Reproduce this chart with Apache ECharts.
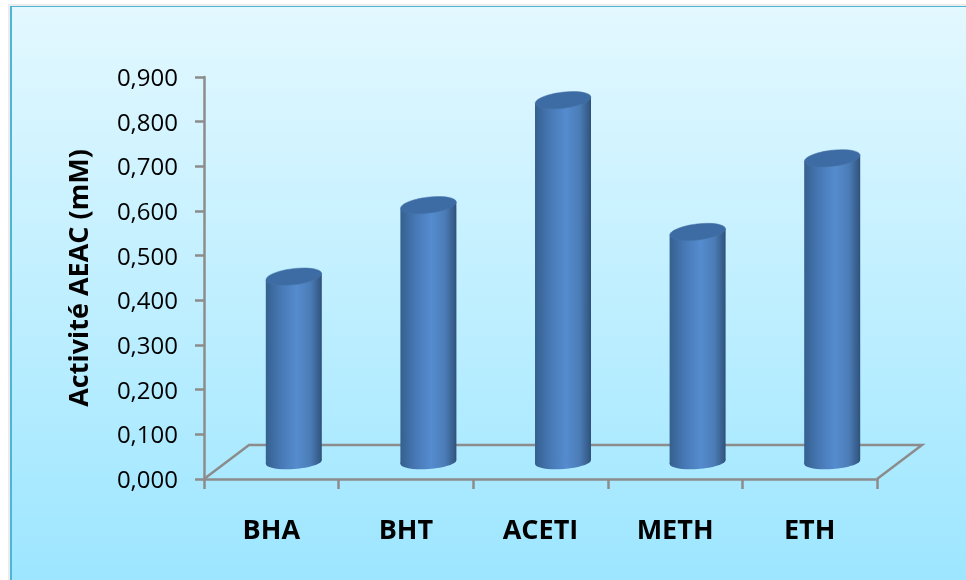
<!DOCTYPE html>
<html>
<head>
<meta charset="utf-8">
<style>html,body{margin:0;padding:0;background:#fff}#c{width:966px;height:580px}</style>
<script src="https://cdn.jsdelivr.net/npm/echarts@6/dist/echarts.min.js"></script>
</head>
<body>
<div id="c"></div>
<script>
const categories = ['BHA', 'BHT', 'ACETI', 'METH', 'ETH'];
const activity = [0.415, 0.575, 0.81, 0.515, 0.68];
const tickStep = 0.1;
const axisMax = 0.9;
const axisTitle = 'Activité AEAC (mM)';

const FONT = '"Open Sans", "Noto Sans", sans-serif';
const AXIS_GREY = '#8c8c8c';
// Oblique depth of the floor, in pixels
const DEPTH_X = 45, DEPTH_Y = 34;
const RX = 28, RY = 7;
const TILT = 0.12;

const bodyFill = new echarts.graphic.LinearGradient(0, 0, 1, 0, [
  { offset: 0, color: '#35608f' },
  { offset: 0.25, color: '#4677b3' },
  { offset: 0.55, color: '#558ccf' },
  { offset: 0.8, color: '#4b7cb6' },
  { offset: 0.96, color: '#355b88' },
  { offset: 1, color: '#2f4f78' }
]);

// One cylinder: the base sits halfway into the floor depth
function renderCylinder(params, api) {
  const base = api.coord([api.value(0), 0]);
  const top = api.coord([api.value(0), api.value(1)]);
  const cx = base[0] + DEPTH_X / 2;
  const by = base[1] - DEPTH_Y / 2;
  const ty = top[1] - DEPTH_Y / 2;
  const topLift = RX * Math.sin(TILT);
  const baseLift = RX * Math.sin(TILT * 0.6);
  return {
    type: 'group',
    children: [
      {
        type: 'ellipse', x: cx, y: by, rotation: TILT * 0.6,
        shape: { cx: 0, cy: 0, rx: RX, ry: RY },
        style: { fill: bodyFill }
      },
      {
        type: 'polygon',
        shape: { points: [
          [cx - RX, ty + topLift], [cx + RX, ty - topLift],
          [cx + RX, by - baseLift], [cx - RX, by + baseLift]
        ] },
        style: { fill: bodyFill }
      },
      {
        type: 'ellipse', x: cx, y: ty, rotation: TILT,
        shape: { cx: 0, cy: 0, rx: RX, ry: RY + 1 },
        style: { fill: '#3d6ba3', stroke: '#4675a8', lineWidth: 0.5 }
      }
    ]
  };
}

// Floor outline behind the cylinders
function renderFloor(params, api) {
  const rect = params.coordSys;
  const x0 = rect.x, x1 = rect.x + rect.width;
  const y = api.coord([0, 0])[1];
  return {
    type: 'polyline',
    shape: { points: [
      [x0, y], [x0 + DEPTH_X, y - DEPTH_Y],
      [x1 + DEPTH_X, y - DEPTH_Y], [x1, y]
    ] },
    style: { fill: null, stroke: AXIS_GREY, lineWidth: 2.5 }
  };
}

const chart = echarts.init(document.getElementById('c'));
chart.setOption({
  animation: false,
  graphic: [
    { type: 'rect', z: -10, shape: { x: 8, y: 4, width: 958, height: 576 },
      style: { fill: '#ececec' } },
    { type: 'rect', z: -9, shape: { x: 10, y: 6, width: 956, height: 574 },
      style: { fill: '#4fb5d6' } },
    { type: 'rect', z: -8, shape: { x: 12, y: 7, width: 954, height: 573 },
      style: { fill: new echarts.graphic.LinearGradient(0, 0, 0, 1, [
        { offset: 0, color: '#e3f8ff' },
        { offset: 1, color: '#9de6ff' }
      ]) } }
  ],
  grid: { left: 204, top: 77, width: 673, height: 402 },
  xAxis: {
    type: 'category',
    data: categories,
    axisLine: { lineStyle: { color: AXIS_GREY, width: 2.5 } },
    axisTick: { show: true, length: 10, lineStyle: { color: AXIS_GREY, width: 2.5 } },
    axisLabel: { color: '#000', fontFamily: FONT, fontWeight: 'bold', fontSize: 27, margin: 39 }
  },
  yAxis: {
    type: 'value',
    min: 0,
    max: axisMax,
    interval: tickStep,
    name: axisTitle,
    nameLocation: 'middle',
    nameRotate: 90,
    nameGap: 110,
    nameTextStyle: { color: '#000', fontFamily: FONT, fontWeight: 'bold', fontSize: 27 },
    splitLine: { show: false },
    axisLine: { show: true, lineStyle: { color: AXIS_GREY, width: 2.5 } },
    axisTick: { show: true, length: 9, lineStyle: { color: AXIS_GREY, width: 2.5 } },
    axisLabel: {
      margin: 26,
      formatter: v => '{t|' + v.toFixed(3).replace('.', ',') + '}',
      rich: { t: { color: '#000', fontFamily: FONT, fontSize: 24, padding: [4, 0, 0, 0] } }
    }
  },
  series: [
    { type: 'custom', coordinateSystem: 'cartesian2d', data: [[0, 0]], renderItem: renderFloor, silent: true, z: 1 },
    { type: 'custom', coordinateSystem: 'cartesian2d',
      data: activity.map((v, i) => [i, v]),
      encode: { x: 0, y: 1 },
      renderItem: renderCylinder, z: 2 }
  ]
});
</script>
</body>
</html>
